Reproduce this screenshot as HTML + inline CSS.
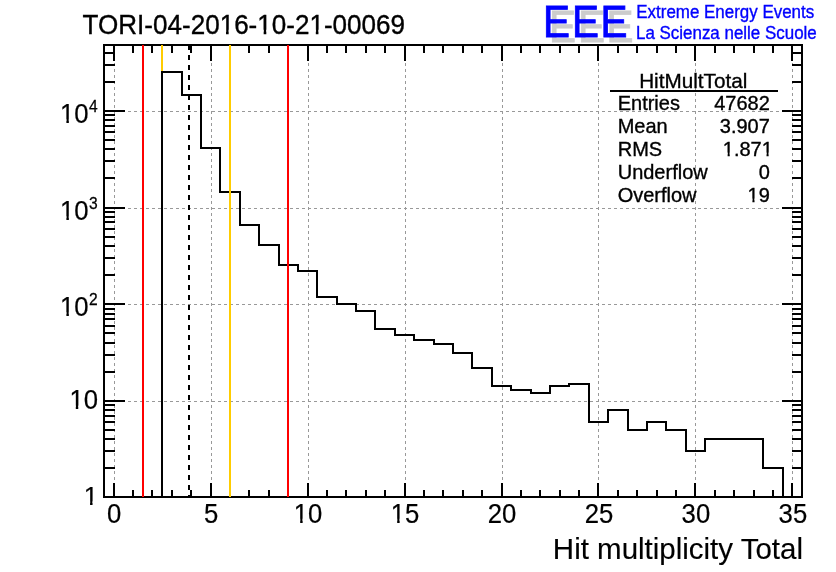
<!DOCTYPE html>
<html lang="en"><head><meta charset="utf-8"><title>TORI-04-2016-10-21-00069</title>
<style>html,body{margin:0;padding:0;background:#fff;overflow:hidden}svg{display:block}text{font-family:"Liberation Sans",Arial,Helvetica,sans-serif;}</style>
</head><body>
<svg width="836" height="572" viewBox="0 0 836 572">
<rect width="836" height="572" fill="#fff"/>
<g stroke="#999999" stroke-width="1" stroke-dasharray="3,3" shape-rendering="crispEdges" fill="none">
<line x1="114.5" y1="45" x2="114.5" y2="497"/>
<line x1="211.5" y1="45" x2="211.5" y2="497"/>
<line x1="308.5" y1="45" x2="308.5" y2="497"/>
<line x1="405.5" y1="45" x2="405.5" y2="497"/>
<line x1="502.5" y1="45" x2="502.5" y2="497"/>
<line x1="598.5" y1="45" x2="598.5" y2="497"/>
<line x1="695.5" y1="45" x2="695.5" y2="497"/>
<line x1="792.5" y1="45" x2="792.5" y2="497"/>
<line x1="104" y1="401.5" x2="802" y2="401.5"/>
<line x1="104" y1="304.5" x2="802" y2="304.5"/>
<line x1="104" y1="208.5" x2="802" y2="208.5"/>
<line x1="104" y1="111.5" x2="802" y2="111.5"/>
</g>
<path d="M162,497 L162,72 L182,72 L182,95 L201,95 L201,148 L220,148 L220,192 L240,192 L240,225 L259,225 L259,245 L279,245 L279,265 L298,265 L298,271 L317,271 L317,297 L337,297 L337,304 L356,304 L356,311 L375,311 L375,329 L395,329 L395,335 L414,335 L414,340 L434,340 L434,344 L453,344 L453,353 L472,353 L472,368 L492,368 L492,386 L511,386 L511,390 L531,390 L531,393 L550,393 L550,386 L569,386 L569,384 L589,384 L589,422 L608,422 L608,410 L628,410 L628,430 L647,430 L647,422 L666,422 L666,430 L686,430 L686,451 L705,451 L705,439 L724,439 L724,439 L744,439 L744,439 L763,439 L763,468 L783,468 L783,497" fill="none" stroke="#000" stroke-width="2" stroke-linejoin="miter" stroke-linecap="square" shape-rendering="crispEdges"/>
<g stroke="#000" stroke-width="2" shape-rendering="crispEdges" fill="none">
<rect x="104" y="45" width="698" height="452"/>
<line x1="114" y1="45" x2="114" y2="61"/><line x1="114" y1="483" x2="114" y2="497"/>
<line x1="133" y1="45" x2="133" y2="53"/><line x1="133" y1="490" x2="133" y2="497"/>
<line x1="152" y1="45" x2="152" y2="53"/><line x1="152" y1="490" x2="152" y2="497"/>
<line x1="172" y1="45" x2="172" y2="53"/><line x1="172" y1="490" x2="172" y2="497"/>
<line x1="191" y1="45" x2="191" y2="53"/><line x1="191" y1="490" x2="191" y2="497"/>
<line x1="211" y1="45" x2="211" y2="61"/><line x1="211" y1="483" x2="211" y2="497"/>
<line x1="230" y1="45" x2="230" y2="53"/><line x1="230" y1="490" x2="230" y2="497"/>
<line x1="249" y1="45" x2="249" y2="53"/><line x1="249" y1="490" x2="249" y2="497"/>
<line x1="269" y1="45" x2="269" y2="53"/><line x1="269" y1="490" x2="269" y2="497"/>
<line x1="288" y1="45" x2="288" y2="53"/><line x1="288" y1="490" x2="288" y2="497"/>
<line x1="308" y1="45" x2="308" y2="61"/><line x1="308" y1="483" x2="308" y2="497"/>
<line x1="327" y1="45" x2="327" y2="53"/><line x1="327" y1="490" x2="327" y2="497"/>
<line x1="346" y1="45" x2="346" y2="53"/><line x1="346" y1="490" x2="346" y2="497"/>
<line x1="366" y1="45" x2="366" y2="53"/><line x1="366" y1="490" x2="366" y2="497"/>
<line x1="385" y1="45" x2="385" y2="53"/><line x1="385" y1="490" x2="385" y2="497"/>
<line x1="405" y1="45" x2="405" y2="61"/><line x1="405" y1="483" x2="405" y2="497"/>
<line x1="424" y1="45" x2="424" y2="53"/><line x1="424" y1="490" x2="424" y2="497"/>
<line x1="443" y1="45" x2="443" y2="53"/><line x1="443" y1="490" x2="443" y2="497"/>
<line x1="463" y1="45" x2="463" y2="53"/><line x1="463" y1="490" x2="463" y2="497"/>
<line x1="482" y1="45" x2="482" y2="53"/><line x1="482" y1="490" x2="482" y2="497"/>
<line x1="502" y1="45" x2="502" y2="61"/><line x1="502" y1="483" x2="502" y2="497"/>
<line x1="521" y1="45" x2="521" y2="53"/><line x1="521" y1="490" x2="521" y2="497"/>
<line x1="540" y1="45" x2="540" y2="53"/><line x1="540" y1="490" x2="540" y2="497"/>
<line x1="560" y1="45" x2="560" y2="53"/><line x1="560" y1="490" x2="560" y2="497"/>
<line x1="579" y1="45" x2="579" y2="53"/><line x1="579" y1="490" x2="579" y2="497"/>
<line x1="598" y1="45" x2="598" y2="61"/><line x1="598" y1="483" x2="598" y2="497"/>
<line x1="618" y1="45" x2="618" y2="53"/><line x1="618" y1="490" x2="618" y2="497"/>
<line x1="637" y1="45" x2="637" y2="53"/><line x1="637" y1="490" x2="637" y2="497"/>
<line x1="657" y1="45" x2="657" y2="53"/><line x1="657" y1="490" x2="657" y2="497"/>
<line x1="676" y1="45" x2="676" y2="53"/><line x1="676" y1="490" x2="676" y2="497"/>
<line x1="695" y1="45" x2="695" y2="61"/><line x1="695" y1="483" x2="695" y2="497"/>
<line x1="715" y1="45" x2="715" y2="53"/><line x1="715" y1="490" x2="715" y2="497"/>
<line x1="734" y1="45" x2="734" y2="53"/><line x1="734" y1="490" x2="734" y2="497"/>
<line x1="754" y1="45" x2="754" y2="53"/><line x1="754" y1="490" x2="754" y2="497"/>
<line x1="773" y1="45" x2="773" y2="53"/><line x1="773" y1="490" x2="773" y2="497"/>
<line x1="792" y1="45" x2="792" y2="61"/><line x1="792" y1="483" x2="792" y2="497"/>
<line x1="104" y1="468" x2="115" y2="468"/><line x1="792" y1="468" x2="802" y2="468"/>
<line x1="104" y1="451" x2="115" y2="451"/><line x1="792" y1="451" x2="802" y2="451"/>
<line x1="104" y1="439" x2="115" y2="439"/><line x1="792" y1="439" x2="802" y2="439"/>
<line x1="104" y1="430" x2="115" y2="430"/><line x1="792" y1="430" x2="802" y2="430"/>
<line x1="104" y1="422" x2="115" y2="422"/><line x1="792" y1="422" x2="802" y2="422"/>
<line x1="104" y1="416" x2="115" y2="416"/><line x1="792" y1="416" x2="802" y2="416"/>
<line x1="104" y1="410" x2="115" y2="410"/><line x1="792" y1="410" x2="802" y2="410"/>
<line x1="104" y1="405" x2="115" y2="405"/><line x1="792" y1="405" x2="802" y2="405"/>
<line x1="104" y1="401" x2="125" y2="401"/><line x1="782" y1="401" x2="802" y2="401"/>
<line x1="104" y1="372" x2="115" y2="372"/><line x1="792" y1="372" x2="802" y2="372"/>
<line x1="104" y1="355" x2="115" y2="355"/><line x1="792" y1="355" x2="802" y2="355"/>
<line x1="104" y1="343" x2="115" y2="343"/><line x1="792" y1="343" x2="802" y2="343"/>
<line x1="104" y1="333" x2="115" y2="333"/><line x1="792" y1="333" x2="802" y2="333"/>
<line x1="104" y1="326" x2="115" y2="326"/><line x1="792" y1="326" x2="802" y2="326"/>
<line x1="104" y1="319" x2="115" y2="319"/><line x1="792" y1="319" x2="802" y2="319"/>
<line x1="104" y1="314" x2="115" y2="314"/><line x1="792" y1="314" x2="802" y2="314"/>
<line x1="104" y1="309" x2="115" y2="309"/><line x1="792" y1="309" x2="802" y2="309"/>
<line x1="104" y1="304" x2="125" y2="304"/><line x1="782" y1="304" x2="802" y2="304"/>
<line x1="104" y1="275" x2="115" y2="275"/><line x1="792" y1="275" x2="802" y2="275"/>
<line x1="104" y1="258" x2="115" y2="258"/><line x1="792" y1="258" x2="802" y2="258"/>
<line x1="104" y1="246" x2="115" y2="246"/><line x1="792" y1="246" x2="802" y2="246"/>
<line x1="104" y1="237" x2="115" y2="237"/><line x1="792" y1="237" x2="802" y2="237"/>
<line x1="104" y1="229" x2="115" y2="229"/><line x1="792" y1="229" x2="802" y2="229"/>
<line x1="104" y1="222" x2="115" y2="222"/><line x1="792" y1="222" x2="802" y2="222"/>
<line x1="104" y1="217" x2="115" y2="217"/><line x1="792" y1="217" x2="802" y2="217"/>
<line x1="104" y1="212" x2="115" y2="212"/><line x1="792" y1="212" x2="802" y2="212"/>
<line x1="104" y1="208" x2="125" y2="208"/><line x1="782" y1="208" x2="802" y2="208"/>
<line x1="104" y1="178" x2="115" y2="178"/><line x1="792" y1="178" x2="802" y2="178"/>
<line x1="104" y1="161" x2="115" y2="161"/><line x1="792" y1="161" x2="802" y2="161"/>
<line x1="104" y1="149" x2="115" y2="149"/><line x1="792" y1="149" x2="802" y2="149"/>
<line x1="104" y1="140" x2="115" y2="140"/><line x1="792" y1="140" x2="802" y2="140"/>
<line x1="104" y1="132" x2="115" y2="132"/><line x1="792" y1="132" x2="802" y2="132"/>
<line x1="104" y1="126" x2="115" y2="126"/><line x1="792" y1="126" x2="802" y2="126"/>
<line x1="104" y1="120" x2="115" y2="120"/><line x1="792" y1="120" x2="802" y2="120"/>
<line x1="104" y1="115" x2="115" y2="115"/><line x1="792" y1="115" x2="802" y2="115"/>
<line x1="104" y1="111" x2="125" y2="111"/><line x1="782" y1="111" x2="802" y2="111"/>
<line x1="104" y1="82" x2="115" y2="82"/><line x1="792" y1="82" x2="802" y2="82"/>
<line x1="104" y1="65" x2="115" y2="65"/><line x1="792" y1="65" x2="802" y2="65"/>
<line x1="104" y1="53" x2="115" y2="53"/><line x1="792" y1="53" x2="802" y2="53"/>
</g>
<g stroke-width="2" shape-rendering="crispEdges" fill="none">
<line x1="143" y1="45" x2="143" y2="497" stroke="#ff0000"/>
<line x1="288" y1="45" x2="288" y2="497" stroke="#ff0000"/>
<line x1="162" y1="45" x2="162" y2="71" stroke="#ffcc00"/>
<line x1="230" y1="45" x2="230" y2="497" stroke="#ffcc00"/>
<line x1="189" y1="45" x2="189" y2="497" stroke="#000" stroke-dasharray="5,5"/>
</g>
<text transform="translate(114.2,522.5) scale(1,1.04)" font-size="25.7" text-anchor="middle" fill="#000" stroke="#000" stroke-width="0.2">0</text>
<text transform="translate(211.1,522.5) scale(1,1.04)" font-size="25.7" text-anchor="middle" fill="#000" stroke="#000" stroke-width="0.2">5</text>
<text transform="translate(308.1,522.5) scale(1,1.04)" font-size="25.7" text-anchor="middle" fill="#000" stroke="#000" stroke-width="0.2">10</text>
<g transform="translate(308.1,522.5) scale(1,1.04)" fill="#fff"><rect x="-13.93" y="-3.62" width="6.01" height="5.32"/><rect x="-5.46" y="-3.62" width="5.30" height="5.32"/></g>
<text transform="translate(405.1,522.5) scale(1,1.04)" font-size="25.7" text-anchor="middle" fill="#000" stroke="#000" stroke-width="0.2">15</text>
<g transform="translate(405.1,522.5) scale(1,1.04)" fill="#fff"><rect x="-13.93" y="-3.62" width="6.01" height="5.32"/><rect x="-5.46" y="-3.62" width="5.30" height="5.32"/></g>
<text transform="translate(502.0,522.5) scale(1,1.04)" font-size="25.7" text-anchor="middle" fill="#000" stroke="#000" stroke-width="0.2">20</text>
<text transform="translate(599.0,522.5) scale(1,1.04)" font-size="25.7" text-anchor="middle" fill="#000" stroke="#000" stroke-width="0.2">25</text>
<text transform="translate(695.9,522.5) scale(1,1.04)" font-size="25.7" text-anchor="middle" fill="#000" stroke="#000" stroke-width="0.2">30</text>
<text transform="translate(792.9,522.5) scale(1,1.04)" font-size="25.7" text-anchor="middle" fill="#000" stroke="#000" stroke-width="0.2">35</text>
<text transform="translate(98,505.0) scale(1,1.0)" font-size="25.7" text-anchor="end" fill="#000" stroke="#000" stroke-width="0.2">1</text>
<g transform="translate(98,505.0) scale(1,1.0)" fill="#fff"><rect x="-13.94" y="-3.62" width="6.01" height="5.32"/><rect x="-5.46" y="-3.62" width="5.30" height="5.32"/></g>
<text transform="translate(98,409.4) scale(1,1.04)" font-size="25.7" text-anchor="end" fill="#000" stroke="#000" stroke-width="0.2">10</text>
<g transform="translate(98,409.4) scale(1,1.04)" fill="#fff"><rect x="-28.22" y="-3.62" width="6.01" height="5.32"/><rect x="-19.75" y="-3.62" width="5.30" height="5.32"/></g>
<text transform="translate(88.6,316.0) scale(1,1.04)" font-size="25.7" text-anchor="end" fill="#000" stroke="#000" stroke-width="0.2">10</text>
<g transform="translate(88.6,316.0) scale(1,1.04)" fill="#fff"><rect x="-28.22" y="-3.62" width="6.01" height="5.32"/><rect x="-19.75" y="-3.62" width="5.30" height="5.32"/></g>
<text transform="translate(97.6,304.6) scale(1,1.04)" font-size="15.6" text-anchor="end" fill="#000" stroke="#000" stroke-width="0.25">2</text>
<text transform="translate(88.6,220.0) scale(1,1.04)" font-size="25.7" text-anchor="end" fill="#000" stroke="#000" stroke-width="0.2">10</text>
<g transform="translate(88.6,220.0) scale(1,1.04)" fill="#fff"><rect x="-28.22" y="-3.62" width="6.01" height="5.32"/><rect x="-19.75" y="-3.62" width="5.30" height="5.32"/></g>
<text transform="translate(97.6,208.6) scale(1,1.04)" font-size="15.6" text-anchor="end" fill="#000" stroke="#000" stroke-width="0.25">3</text>
<text transform="translate(88.6,123.0) scale(1,1.04)" font-size="25.7" text-anchor="end" fill="#000" stroke="#000" stroke-width="0.2">10</text>
<g transform="translate(88.6,123.0) scale(1,1.04)" fill="#fff"><rect x="-28.22" y="-3.62" width="6.01" height="5.32"/><rect x="-19.75" y="-3.62" width="5.30" height="5.32"/></g>
<text transform="translate(97.6,111.6) scale(1,1.04)" font-size="15.6" text-anchor="end" fill="#000" stroke="#000" stroke-width="0.25">4</text>
<text transform="translate(803,558.8) scale(1,1.02)" font-size="29.5" text-anchor="end" fill="#000" stroke="#000" stroke-width="0.15">Hit multiplicity Total</text>
<text transform="translate(82.6,33.6) scale(1,1.032)" font-size="26.05" text-anchor="start" fill="#000" stroke="#000" stroke-width="0.35">TORI-04-2016-10-21-00069</text>
<g transform="translate(82.6,33.6) scale(1,1.032)" fill="#fff"><rect x="137.35" y="-3.72" width="6.07" height="5.50"/><rect x="146.07" y="-3.72" width="5.36" height="5.50"/><rect x="174.99" y="-3.72" width="6.07" height="5.50"/><rect x="183.71" y="-3.72" width="5.36" height="5.50"/><rect x="227.14" y="-3.72" width="6.07" height="5.50"/><rect x="235.85" y="-3.72" width="5.36" height="5.50"/></g>
<text transform="scale(0.895,1)" x="613.30 645.75 677.71" y="41.8" font-size="45.2" fill="#cccccc" stroke="#cccccc" stroke-width="0.88" stroke-linejoin="miter">EEE</text>
<text transform="scale(0.895,1)" x="606.59 639.05 671.01" y="36.8" font-size="45.2" fill="#0000ff" stroke="#0000ff" stroke-width="0.88" stroke-linejoin="miter">EEE</text>
<text transform="translate(636.3,17.5) scale(1,1.03)" font-size="16.95" text-anchor="start" fill="#0000ff" stroke="#0000ff" stroke-width="0.35">Extreme Energy Events</text>
<text transform="translate(636,38.7) scale(1,1.03)" font-size="16.95" text-anchor="start" fill="#0000ff" stroke="#0000ff" stroke-width="0.35">La Scienza nelle Scuole</text>
<text transform="translate(693.2,88.2) scale(1,1.0)" font-size="20.7" text-anchor="middle" fill="#000" stroke="#000" stroke-width="0.35">HitMultTotal</text>
<text transform="translate(617.7,109.9) scale(1,1.02)" font-size="20" text-anchor="start" fill="#000" stroke="#000" stroke-width="0.35">Entries</text>
<text transform="translate(769.8,109.9) scale(1,1.02)" font-size="20" text-anchor="end" fill="#000" stroke="#000" stroke-width="0.35">47682</text>
<text transform="translate(617.7,132.9) scale(1,1.02)" font-size="20" text-anchor="start" fill="#000" stroke="#000" stroke-width="0.35">Mean</text>
<text transform="translate(769.8,132.9) scale(1,1.02)" font-size="20" text-anchor="end" fill="#000" stroke="#000" stroke-width="0.35">3.907</text>
<text transform="translate(617.7,155.9) scale(1,1.02)" font-size="20" text-anchor="start" fill="#000" stroke="#000" stroke-width="0.35">RMS</text>
<text transform="translate(772.8,155.9) scale(1,1.02)" font-size="20" text-anchor="end" fill="#000" stroke="#000" stroke-width="0.35">1.871</text>
<g transform="translate(772.8,155.9) scale(1,1.02)" fill="#fff"><rect x="-50.18" y="-3.27" width="5.01" height="5.04"/><rect x="-43.06" y="-3.27" width="4.35" height="5.04"/><rect x="-11.29" y="-3.27" width="5.01" height="5.04"/><rect x="-4.17" y="-3.27" width="4.35" height="5.04"/></g>
<text transform="translate(617.7,178.9) scale(1,1.02)" font-size="20" text-anchor="start" fill="#000" stroke="#000" stroke-width="0.35">Underflow</text>
<text transform="translate(769.8,178.9) scale(1,1.02)" font-size="20" text-anchor="end" fill="#000" stroke="#000" stroke-width="0.35">0</text>
<text transform="translate(617.7,201.9) scale(1,1.02)" font-size="20" text-anchor="start" fill="#000" stroke="#000" stroke-width="0.35">Overflow</text>
<text transform="translate(769.8,201.9) scale(1,1.02)" font-size="20" text-anchor="end" fill="#000" stroke="#000" stroke-width="0.35">19</text>
<g transform="translate(769.8,201.9) scale(1,1.02)" fill="#fff"><rect x="-22.40" y="-3.27" width="5.01" height="5.04"/><rect x="-15.27" y="-3.27" width="4.35" height="5.04"/></g>
<line x1="610" y1="91" x2="778" y2="91" stroke="#000" stroke-width="2" shape-rendering="crispEdges"/>
</svg></body></html>
